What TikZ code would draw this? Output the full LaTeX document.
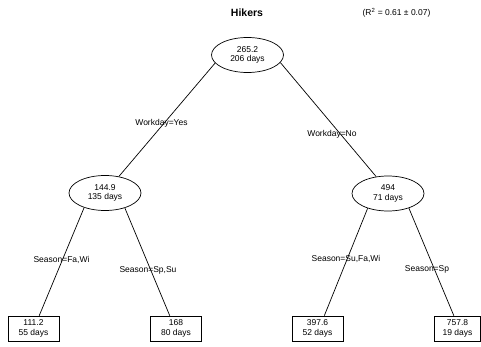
\documentclass[tikz,border=0pt]{standalone}
\usepackage{fontspec}
\setmainfont{Liberation Sans}
\usetikzlibrary{shapes.geometric}
\tikzset{
  splitnode/.style={draw, ellipse, line width=0.7pt, minimum width=72pt, minimum height=35pt,
    inner sep=0pt, align=center, font=\fontsize{8.5}{9.5}\selectfont},
  leafnode/.style={draw, rectangle, line width=0.7pt, minimum width=51pt, minimum height=25pt,
    inner sep=0pt, align=center, font=\fontsize{8.5}{9.5}\selectfont},
  branch/.style={draw, line width=0.7pt},
  cond/.style={inner sep=0pt, font=\fontsize{8.5}{10}\selectfont}
}
\begin{document}
\begin{tikzpicture}[x=1pt, y=-1pt]
\useasboundingbox (0,0) rectangle (481,347);

% heading
\node[font=\fontsize{10.5}{12}\selectfont\bfseries] (title) at (247,13) {Hikers};
\node[font=\fontsize{8.5}{10}\selectfont] (fit) at (396.5,13) {(R\textsuperscript{2} = 0.61 ± 0.07)};

% split nodes
\node[splitnode] (root) at (247.5,55) {265.2\\206 days};
\node[splitnode] (left) at (105,193) {144.9\\135 days};
\node[splitnode] (right) at (388,193.5) {494\\71 days};

% leaves
\node[leafnode] (la) at (33.5,328.5) {111.2\\55 days};
\node[leafnode] (lb) at (176,328.5) {168\\80 days};
\node[leafnode] (lc) at (317.5,328.5) {397.6\\52 days};
\node[leafnode, minimum width=46pt] (ld) at (457.5,328.5) {757.8\\19 days};

% branches
\draw[branch] (root.194) -- (left.50);
\draw[branch] (root.347) -- (right.125);
\draw[branch] (left.215) -- (la.66);
\draw[branch] (left.323) -- (lb.116);
\draw[branch] (right.216) -- (lc.62);
\draw[branch] (right.325) -- (ld.106);

% split conditions
\node[cond] (c1) at (161.5,123) {Workday=Yes};
\node[cond] (c2) at (332,134) {Workday=No};
\node[cond] (c3) at (61.5,260) {Season=Fa,Wi};
\node[cond] (c4) at (148,270) {Season=Sp,Su};
\node[cond] (c5) at (346,259) {Season=Su,Fa,Wi};
\node[cond] (c6) at (427,269) {Season=Sp};
\end{tikzpicture}
\end{document}
